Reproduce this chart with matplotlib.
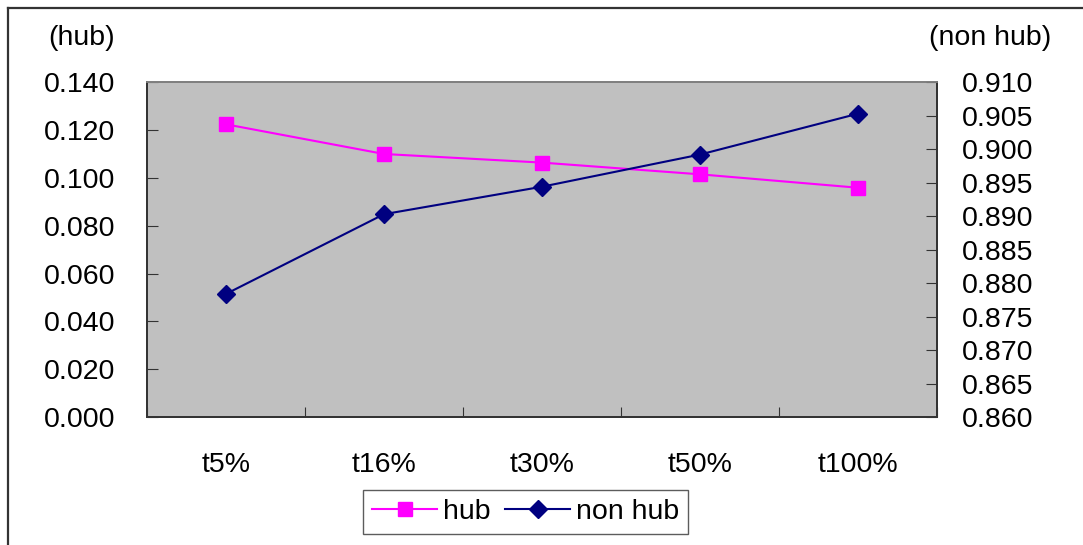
import matplotlib
matplotlib.use("Agg")
import matplotlib.pyplot as plt
import matplotlib.lines as ml
import numpy as np

plt.rcParams['font.family'] = ['Liberation Sans', 'DejaVu Sans']

# Ratio per threshold
categories = ['t5%', 't16%', 't30%', 't50%', 't100%']
hub = [0.1224, 0.1100, 0.1064, 0.1015, 0.0959]
non_hub = [0.8784, 0.8903, 0.8944, 0.8992, 0.9053]
hub_ticks = [0.000, 0.020, 0.040, 0.060, 0.080, 0.100, 0.120, 0.140]
non_hub_ticks = [0.860, 0.865, 0.870, 0.875, 0.880, 0.885, 0.890, 0.895,
                 0.900, 0.905, 0.910]

W, H = 1083, 545
fig = plt.figure(figsize=(W/100., H/100.), dpi=100)
fs = 20.5

# outer frame (bottom and right edges run off the image)
fig.add_artist(ml.Line2D([8/W, 8/W], [0, 1-8/H], color='#333333', lw=1.6))
fig.add_artist(ml.Line2D([8/W, 1], [1-8/H, 1-8/H], color='#333333', lw=1.6))

ax = fig.add_axes([147/W, 1-417.2/H, 790/W, 335/H])
ax.set_facecolor('#C0C0C0')
ax2 = ax.twinx()

x = np.arange(len(categories))
l1, = ax.plot(x, hub, color='#FF00FF', lw=1.5, marker='s', ms=10,
              markeredgecolor='#FF00FF', label='hub')
l2, = ax2.plot(x, non_hub, color='#000080', lw=1.5, marker='D', ms=9,
               markeredgecolor='#000080', label='non hub')

ax.set_xlim(-0.5, len(categories)-0.5)
ax.set_ylim(0, 0.14)
ax2.set_ylim(0.86, 0.91)

ax.set_yticks(hub_ticks)
ax.set_yticklabels(['%.3f' % v for v in hub_ticks], fontsize=fs)
ax2.set_yticks(non_hub_ticks)
ax2.set_yticklabels(['%.3f' % v for v in non_hub_ticks], fontsize=fs)

# category labels centred, ticks between categories
ax.set_xticks(np.arange(len(categories)+1) - 0.5)
ax.set_xticklabels([])
ax.set_xticks(x, minor=True)
ax.set_xticklabels(categories, minor=True, fontsize=fs)
ax.tick_params(axis='x', which='minor', length=0, pad=25)
ax.tick_params(axis='x', which='major', direction='in', length=7, color='#333333')
ax.tick_params(axis='y', direction='in', length=8, pad=23, color='#333333')
ax2.tick_params(axis='y', direction='in', length=8, pad=18, color='#333333')

for a in (ax, ax2):
    for s in a.spines.values():
        s.set_color('#333333')
        s.set_linewidth(1.3)
ax.spines['top'].set_color('#808080')
ax2.spines['top'].set_color('#808080')

fig.text(82/W, 1-38/H, '(hub)', ha='center', va='center', fontsize=fs)
fig.text(990/W, 1-38/H, '(non hub)', ha='center', va='center', fontsize=fs)

leg = fig.legend([l1, l2], ['hub', 'non hub'], loc='center',
                 bbox_to_anchor=(525.5/W, 1-512/H), ncol=2, fontsize=fs,
                 frameon=True, fancybox=False, handlelength=2.3,
                 handletextpad=0.2, columnspacing=0.5, borderpad=0.3,
                 borderaxespad=0)
leg.get_frame().set_edgecolor('#333333')
leg.get_frame().set_linewidth(1.0)

plt.savefig('out.png', dpi=100)
